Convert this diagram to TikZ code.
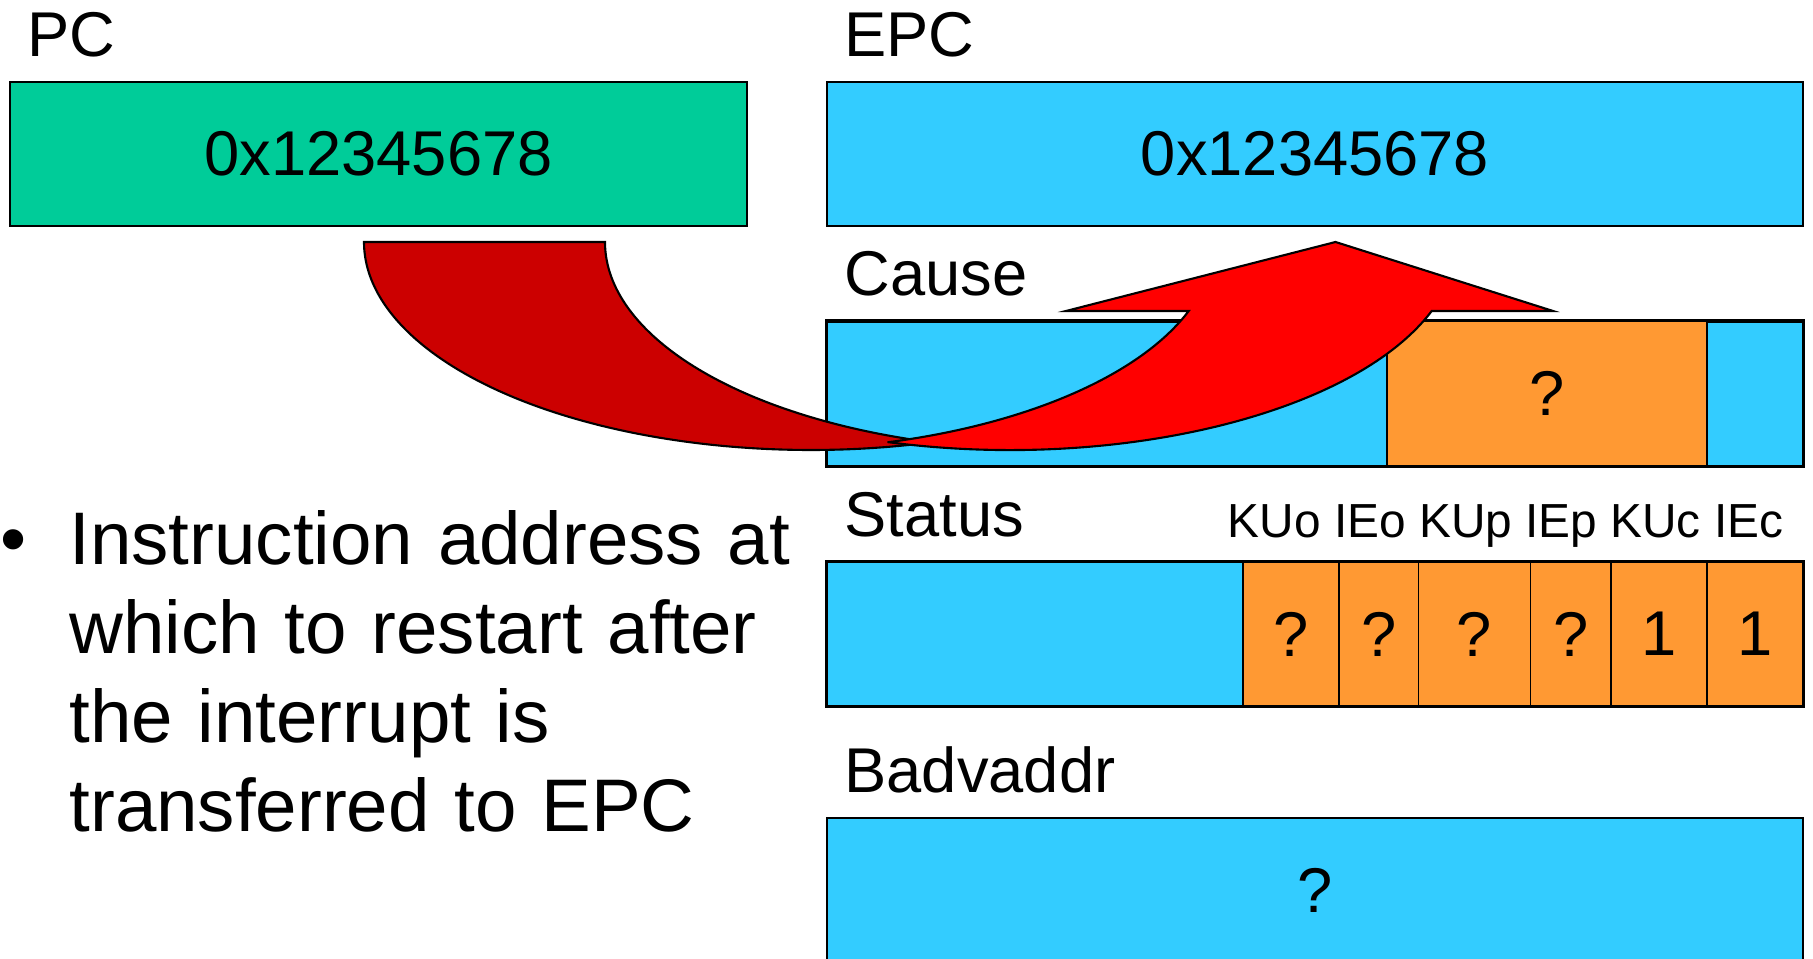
\documentclass[tikz,border=0pt]{standalone}
\usepackage{fontspec}
\setmainfont{Liberation Sans}
\usepackage{tikz}
\usetikzlibrary{positioning}
\usepackage{xcolor}
\definecolor{pcgreen}{HTML}{00CC99}
\definecolor{regblue}{HTML}{33CCFF}
\definecolor{fieldorange}{HTML}{FF9933}
\definecolor{arrowdark}{HTML}{CC0000}
\definecolor{arrowred}{HTML}{FF0000}

\begin{document}
\begin{tikzpicture}[
    regbox/.style={draw, line width=0.7pt, minimum height=1.44cm, inner sep=0pt, font=\fontsize{18}{21.6}\selectfont},
    cellbox/.style={draw, line width=0.4pt, fill=fieldorange, minimum height=1.44cm, inner sep=0pt, outer sep=0pt, font=\fontsize{18}{21.6}\selectfont},
    regname/.style={anchor=base west, inner sep=0pt, font=\fontsize{18}{21.6}\selectfont},
    bigarrow/.style={draw, line width=0.6pt}
]
    \useasboundingbox (0, 0) rectangle (18.13, 9.58);

    \node[regbox, fill=pcgreen, minimum width=7.37cm] (pc) at (3.785, 8.04) {0x12345678};
    \node[regbox, fill=regblue, minimum width=9.76cm] (epc) at (13.15, 8.04) {0x12345678};
    \node[regbox, fill=regblue, minimum width=9.76cm, minimum height=1.445cm] (cause) at (13.15, 5.6425) {};
    \node[regbox, fill=regblue, minimum width=9.76cm] (status) at (13.15, 3.24) {};
    \node[regbox, fill=regblue, minimum width=9.76cm] (badvaddr) at (13.15, 0.68) {?};

    \node[regname] (pcname) at ([shift={(0.18,0.245)}]pc.north west) {PC};
    \node[regname] (epcname) at ([shift={(0.18,0.245)}]epc.north west) {EPC};
    \node[regname] (causename) at ([shift={(0.18,0.245)}]cause.north west) {Cause};
    \node[regname] (statusname) at ([shift={(0.18,0.245)}]status.north west) {Status};
    \node[regname] (badvaddrname) at ([shift={(0.18,0.245)}]badvaddr.north west) {Badvaddr};

    % cause field
    \node[cellbox, minimum width=3.2cm, minimum height=1.445cm] (exccode) at (15.47, 5.6425) {?};

    % status bits
    \node[cellbox, minimum width=0.96cm] (kuo) at (12.91, 3.24) {?};
    \node[cellbox, minimum width=0.795cm, right=0pt of kuo] (ieo) {?};
    \node[cellbox, minimum width=1.12cm, right=0pt of ieo] (kup) {?};
    \node[cellbox, minimum width=0.805cm, right=0pt of kup] (iep) {?};
    \node[cellbox, minimum width=0.96cm, right=0pt of iep] (kuc) {1};
    \node[cellbox, minimum width=0.96cm, right=0pt of kuc] (iec) {1};
    \node[anchor=base, inner sep=0pt, font=\fontsize{13.6}{16}\selectfont] (bitnames) at (15.055, 4.207) {KUo IEo KUp IEp KUc IEc};

    \draw[line width=0.7pt] (cause.south west) rectangle (cause.north east);
    \draw[line width=0.7pt] (status.south west) rectangle (status.north east);

    \node[anchor=base west, inner sep=0pt, font=\fontsize{21.2}{25.3}\selectfont] (dot) at (0, 3.93) {•};
    \node[anchor=base west, inner sep=0pt, text width=7.6cm, align=left, font=\fontsize{21.2}{25.3}\selectfont] (note) at (0.688, 3.93) {Instruction address at\\ which to restart after\\ the interrupt is\\ transferred to EPC};

    % u-turn arrow, back part then front part
    \draw[bigarrow, fill=arrowdark] (3.64, 7.16)
        arc[start angle=180, end angle=285.64, x radius=4.47cm, y radius=2.08cm]
        arc[start angle=254.36, end angle=180, x radius=4.47cm, y radius=2.08cm] -- cycle;
    \draw[bigarrow, fill=arrowred] (8.885, 5.158)
        arc[start angle=254.23, end angle=340.63, x radius=4.47cm, y radius=2.08cm]
        -- (15.53, 6.47) -- (13.355, 7.16) -- (10.66, 6.47) -- (11.887, 6.47)
        arc[start angle=340.63, end angle=285.77, x radius=4.47cm, y radius=2.08cm] -- cycle;
\end{tikzpicture}
\end{document}
